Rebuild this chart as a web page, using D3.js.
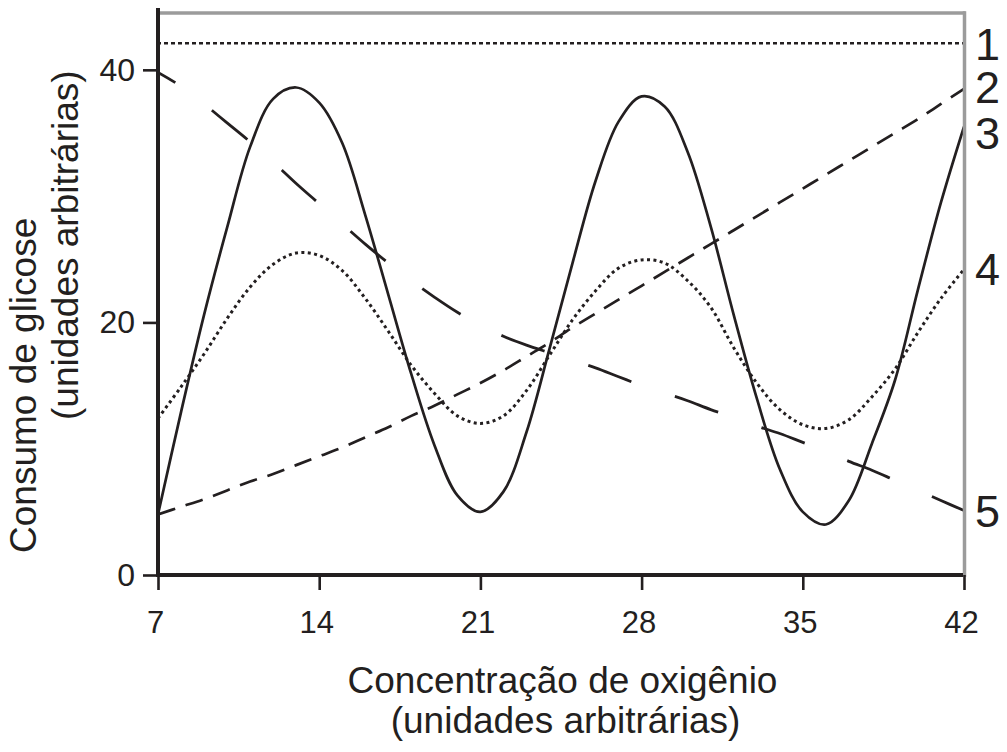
<!DOCTYPE html>
<html>
<head>
<meta charset="utf-8">
<script src="https://cdn.jsdelivr.net/npm/d3@7"></script>
<style>
  html, body { margin: 0; padding: 0; background: #ffffff; }
  svg { display: block; }
</style>
</head>
<body>
<script>
// ---- data ----
const oxygen = [7, 8, 9, 10, 11, 12, 13, 14, 15, 16, 17, 18, 19, 20, 21, 22, 23, 24,
                25, 26, 27, 28, 29, 30, 31, 32, 33, 34, 35, 36, 37, 38, 39, 40, 41, 42];

const curve1X = [7, 42];
const curve1 = [42.1, 42.1];

const curve2 = [4.8, 5.4, 6.0, 6.7, 7.4, 8.0, 8.7, 9.4, 10.1, 10.9, 11.7, 12.6, 13.4, 14.3, 15.2, 16.2, 17.3, 18.4,
                19.6, 20.7, 21.8, 22.9, 24.0, 25.1, 26.2, 27.3, 28.4, 29.5, 30.6, 31.7, 32.8, 33.9, 35.0, 36.1, 37.3, 38.5];

const curve3 = [4.8, 12.9, 20.6, 27.5, 33.9, 37.7, 38.6, 37.4, 34.2, 28.5, 22.2, 15.9, 10.3, 6.3, 5.0, 6.6, 11.3, 17.9,
                24.7, 31.2, 35.9, 37.9, 37.1, 33.5, 27.6, 20.6, 14.0, 8.4, 5.0, 4.0, 5.9, 10.4, 15.4, 22.6, 29.5, 35.5];

const curve4 = [12.4, 14.9, 17.5, 20.3, 22.8, 24.6, 25.5, 25.3, 24.1, 21.9, 19.3, 16.6, 14.4, 12.6, 12.0, 12.6, 14.6, 17.4,
                20.2, 22.5, 24.3, 24.95, 24.7, 23.3, 21.2, 18.0, 15.2, 13.1, 11.9, 11.6, 12.3, 14.1, 16.3, 19.2, 21.9, 24.2];

const curve5 = [39.8, 38.7, 37.3, 35.8, 34.3, 32.7, 31.0, 29.4, 27.8, 26.2, 24.7, 23.3, 22.0, 20.8, 19.8, 18.9, 18.2, 17.6,
                17.0, 16.4, 15.7, 15.0, 14.4, 13.8, 13.1, 12.5, 11.8, 11.2, 10.5, 9.8, 9.0, 8.3, 7.5, 6.7, 5.9, 5.1];

const xTicks = [7, 14, 21, 28, 35, 42];
const yTicks = [0, 20, 40];
const curveLabels = ["1", "2", "3", "4", "5"];
const yTitle = ["Consumo de glicose", "(unidades arbitrárias)"];
const xTitle = ["Concentração de oxigênio", "(unidades arbitrárias)"];

// ---- layout ----
const W = 1007, H = 752;
const ink = "#231f20";
const frameGray = "#9b9b9b";
const font = "'Liberation Sans', Arial, Helvetica, sans-serif";

const x = d3.scaleLinear().domain([7, 42]).range([158, 964]);
const y = d3.scaleLinear().domain([0, 44.5]).range([575, 13]);

const svg = d3.select("body").append("svg").attr("width", W).attr("height", H);

// clip
svg.append("clipPath").attr("id", "plotclip")
  .append("rect").attr("x", x(7)).attr("y", y(44.5)).attr("width", x(42) - x(7)).attr("height", y(0) - y(44.5));

// gray frame (top)
svg.append("line")
  .attr("x1", x(7)).attr("x2", x(42) + 1.5).attr("y1", y(44.5)).attr("y2", y(44.5))
  .attr("stroke", frameGray).attr("stroke-width", 3.5);

// curves
const lineGen = (xs, ys) => d3.line()
  .x((d, i) => x(xs[i]))
  .y(d => y(d))
  .curve(d3.curveCatmullRom.alpha(0.5))(ys);

const g = svg.append("g").attr("clip-path", "url(#plotclip)");

g.append("path").attr("d", d3.line().x((d, i) => x(curve1X[i])).y(d => y(d))(curve1))
  .attr("fill", "none").attr("stroke", ink).attr("stroke-width", 2.5)
  .attr("stroke-dasharray", "4,3").attr("stroke-dashoffset", -6);

g.append("path").attr("d", lineGen(oxygen, curve2))
  .attr("fill", "none").attr("stroke", ink).attr("stroke-width", 2.7)
  .attr("stroke-dasharray", "18,11");

g.append("path").attr("d", lineGen(oxygen, curve3))
  .attr("fill", "none").attr("stroke", ink).attr("stroke-width", 2.7);

g.append("path").attr("d", lineGen(oxygen, curve4))
  .attr("fill", "none").attr("stroke", ink).attr("stroke-width", 3)
  .attr("stroke-dasharray", "3,3.4");

g.append("path").attr("d", lineGen(oxygen, curve5))
  .attr("fill", "none").attr("stroke", ink).attr("stroke-width", 2.8)
  .attr("stroke-dasharray", "46,46").attr("stroke-dashoffset", 26);

// right gray frame
svg.append("line")
  .attr("x1", x(42) + 0.5).attr("x2", x(42) + 0.5).attr("y1", y(44.5) - 1.7).attr("y2", y(0) + 2)
  .attr("stroke", frameGray).attr("stroke-width", 3.5);

// axes
const xAxis = d3.axisBottom(x).tickValues(xTicks).tickSize(15).tickSizeOuter(0);
const gx = svg.append("g").attr("transform", `translate(0,${y(0)})`).call(xAxis);
gx.select(".domain").remove();
gx.selectAll(".tick line").attr("stroke", ink).attr("stroke-width", 2.6);
gx.selectAll(".tick text")
  .attr("fill", ink).attr("font-family", font).attr("font-size", 31)
  .attr("y", 58).attr("dy", 0).attr("dx", -3);

const yAxis = d3.axisLeft(y).tickValues(yTicks).tickSize(15).tickSizeOuter(0);
const gy = svg.append("g").attr("transform", `translate(${x(7)},0)`).call(yAxis);
gy.select(".domain").remove();
gy.selectAll(".tick line").attr("stroke", ink).attr("stroke-width", 2.6);
gy.selectAll(".tick text")
  .attr("fill", ink).attr("font-family", "'Liberation Sans Narrow', 'Arial Narrow', " + font)
  .attr("font-size", 32).attr("x", -23).attr("dy", "0.33em");

// black axis lines
svg.append("line")
  .attr("x1", x(7)).attr("x2", x(7)).attr("y1", y(44.5) - 5).attr("y2", y(0) + 2)
  .attr("stroke", ink).attr("stroke-width", 4);
svg.append("line")
  .attr("x1", x(7)).attr("x2", x(42) - 1).attr("y1", y(0)).attr("y2", y(0))
  .attr("stroke", ink).attr("stroke-width", 4);

// curve labels on the right
const labelBaseline = [60, 103, 149, 285, 527];
svg.selectAll("text.clabel").data(curveLabels).join("text")
  .attr("class", "clabel")
  .attr("x", 975).attr("y", (d, i) => labelBaseline[i])
  .attr("fill", ink).attr("font-family", font).attr("font-size", 45)
  .text(d => d);

// x title
svg.selectAll("text.xtitle").data(xTitle).join("text")
  .attr("class", "xtitle")
  .attr("x", (d, i) => i === 0 ? 562.5 : 565.5)
  .attr("y", (d, i) => i === 0 ? 693 : 733)
  .attr("text-anchor", "middle")
  .attr("fill", ink).attr("font-family", font).attr("font-size", 37)
  .text(d => d);

// y title
svg.selectAll("text.ytitle").data(yTitle).join("text")
  .attr("class", "ytitle")
  .attr("transform", (d, i) => i === 0 ? "translate(36,553) rotate(-90)" : "translate(78,420) rotate(-90)")
  .attr("text-anchor", "start")
  .attr("fill", ink).attr("font-family", font).attr("font-size", 37)
  .text(d => d);
</script>
</body>
</html>
